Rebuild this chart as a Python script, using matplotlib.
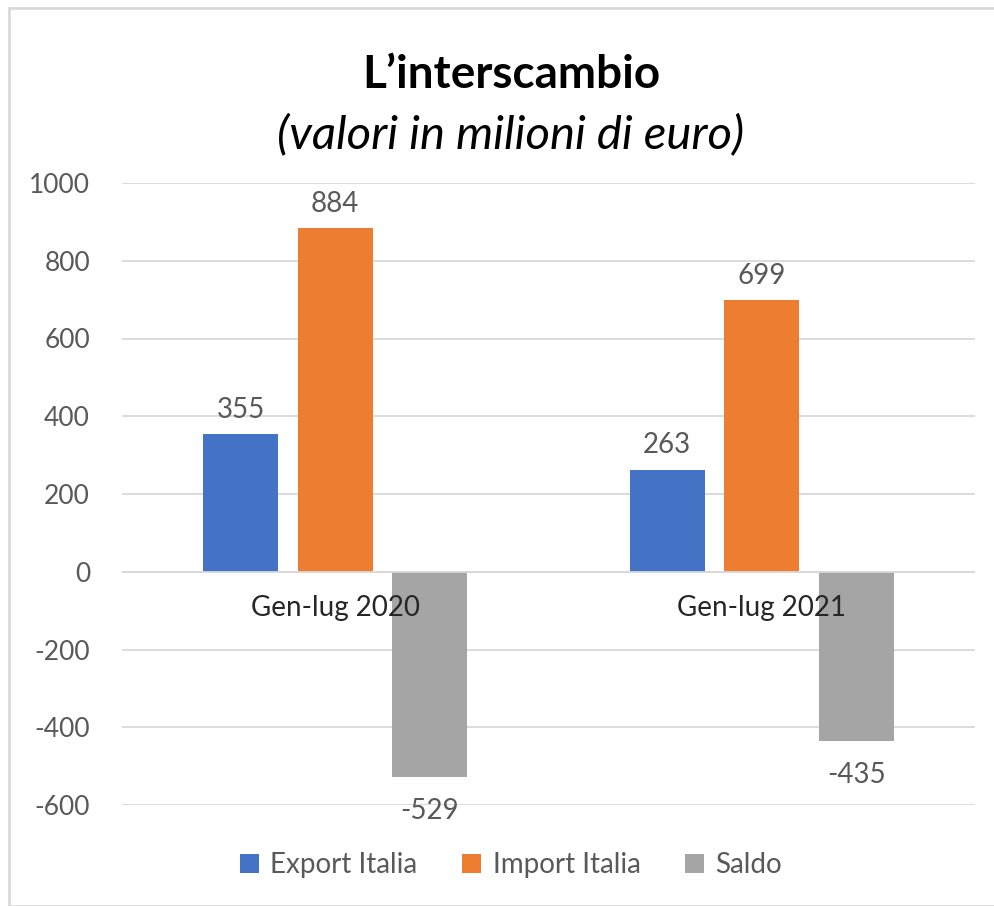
import matplotlib.pyplot as plt
from matplotlib.patches import Rectangle
import numpy as np

periods = ["Gen-lug 2020", "Gen-lug 2021"]
series = ["Export Italia", "Import Italia", "Saldo"]
export_it = [355, 263]
import_it = [884, 699]
saldo = [-529, -435]
colors = ["#4472C4", "#ED7D31", "#A5A5A5"]
yticks = [-600, -400, -200, 0, 200, 400, 600, 800, 1000]

plt.rcParams['font.family'] = ['Lato', 'DejaVu Sans']
txt = "#595959"

fig = plt.figure(figsize=(9.94, 9.06), dpi=100)
fig.patches.append(Rectangle((9 / 994, 0.0), 1.2, 1 - 8 / 906, transform=fig.transFigure,
                             fill=False, edgecolor="#d9d9d9", linewidth=2))
ax = fig.add_axes([122 / 994, 1 - 805 / 906, 853 / 994, (805 - 183) / 906])

x = np.arange(len(periods))
width = 0.176
step = 0.2216
for k, (name, vals) in enumerate(zip(series, [export_it, import_it, saldo])):
    pos = x + (k - 1) * step
    ax.bar(pos, vals, width, color=colors[k], label=name, zorder=3)
    for xp, v in zip(pos, vals):
        if v >= 0:
            ax.annotate(str(v), (xp, v), xytext=(0, 8), textcoords="offset points",
                        ha="center", va="bottom", fontsize=20, color=txt)
        else:
            ax.annotate(str(v), (xp, v), xytext=(0, -15), textcoords="offset points",
                        ha="center", va="top", fontsize=20, color=txt)

ax.set_xlim(-0.5, 1.5)
ax.set_ylim(-600, 1000)
ax.set_yticks(yticks)
ax.set_yticklabels([str(t) for t in yticks], fontsize=19, color=txt)
ax.tick_params(axis="y", length=0, pad=23)
ax.set_xticks([])
ax.grid(axis="y", color="#d9d9d9", linewidth=1.3, zorder=0)
ax.axhline(0, color="#d9d9d9", linewidth=1.3, zorder=4)
for s in ax.spines.values():
    s.set_visible(False)

for i, p in enumerate(periods):
    ax.annotate(p, (i, 0), xytext=(0, -17), textcoords="offset points",
                ha="center", va="top", fontsize=20, color="#262626")

fig.text(511 / 994, 1 - 75 / 906, "L\u2019interscambio", ha="center", va="center",
         fontsize=33, fontweight="bold", color="black")
fig.text(511 / 994, 1 - 135 / 906, "(valori in milioni di euro)", ha="center", va="center",
         fontsize=34, fontstyle="italic", color="black")

fig.legend(loc="center", bbox_to_anchor=(511 / 994, 1 - 865 / 906), ncol=3, frameon=False,
           fontsize=20, labelcolor=txt, handlelength=0.7, handleheight=0.7,
           handletextpad=0.4, columnspacing=1.6)

fig.savefig("out.png", dpi=100)
